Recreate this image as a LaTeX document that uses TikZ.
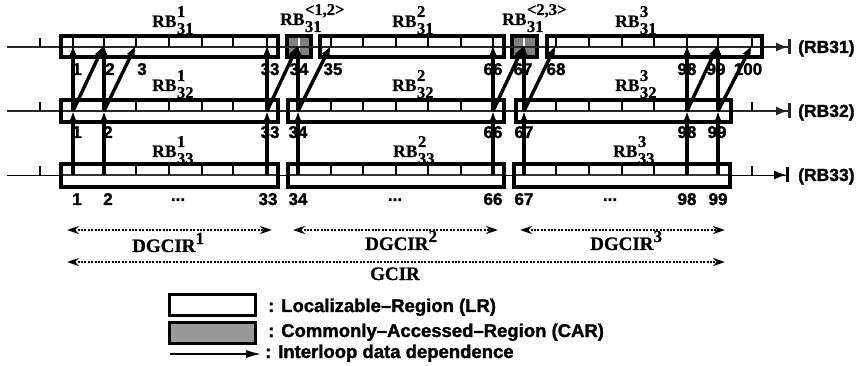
\documentclass[tikz,border=0pt]{standalone}
\usepackage{fontspec}
\setmainfont{Liberation Serif}[BoldFeatures={FakeBold=0.8}]
\setsansfont{Liberation Sans}[BoldFeatures={FakeBold=1.5}]
\usetikzlibrary{arrows.meta,fit}

% RB label with stacked superscript / subscript at nearly full size
\newcommand{\rbtag}[2]{RB\kern0.5pt\rlap{\raisebox{10pt}{\fontsize{16.5}{16.5}\selectfont #1}}\raisebox{-7pt}{\fontsize{16.5}{16.5}\selectfont #2}}
\newcommand{\supnum}[1]{\raisebox{8pt}{\fontsize{17}{17}\selectfont #1}}

\tikzset{
  lrbox/.style={draw, line width=3.6pt, inner sep=0pt, outer sep=0pt},
  carbox/.style={lrbox, fill=black!50},
  tick/.style={line width=1.2pt},
  axisline/.style={line width=1.5pt, black!85},
  faintline/.style={line width=0.8pt, black!55},
  dep/.style={line width=3.4pt, -{Latex[length=12pt,width=9pt]}},
  rowend/.style={-{Latex[length=12pt,width=9pt]Bar[width=15pt,line width=3pt]}},
  num/.style={font=\sffamily\bfseries\fontsize{17}{17}\selectfont, inner sep=0pt, anchor=base},
  rb/.style={font=\bfseries\fontsize{17.5}{17.5}\selectfont, inner sep=0pt, anchor=base west},
  span/.style={line width=2.6pt, dash pattern=on 2pt off 1.4pt,
    {Stealth[length=12pt,width=8pt]}-{Stealth[length=12pt,width=8pt]}},
  spanlab/.style={font=\bfseries\fontsize{19}{19}\selectfont, inner sep=0pt},
  legtext/.style={font=\sffamily\bfseries\fontsize{18.5}{18.5}\selectfont, inner sep=0pt, anchor=base west},
  rowlab/.style={font=\sffamily\bfseries\fontsize{17.5}{17.5}\selectfont, inner sep=0pt, anchor=base west},
}

\begin{document}
\begin{tikzpicture}[x=1pt,y=-1pt]
\useasboundingbox (0,0) rectangle (857,366);

% ---------- commonly accessed regions (drawn first, axis passes over) ----------
\node[carbox, fit={(287,36) (311,57)}] (car12) {};
\node[carbox, fit={(512,36) (537,57)}] (car23) {};
\draw[white, line width=1.2pt] (299,38) -- (299,55);
\draw[white, line width=1.2pt] (524,38) -- (524,55);

% ---------- axis lines of the three loops ----------
\coordinate (s1) at (7,47);   \coordinate (t1) at (791,47);
\coordinate (s2) at (7,111);  \coordinate (t2) at (791,111);
\coordinate (s3) at (7,175);  \coordinate (t3) at (789,175);
\draw[axisline, rowend] (s1) -- (t1);
\draw[axisline, rowend] (s2) -- (t2);
\draw[faintline, rowend, black] (s3) -- (t3);
\draw[line width=1.2pt, black!80] (61,175) -- (278,175) (288,175) -- (504,175) (514,175) -- (730,175);

% small ticks on the axes
\draw[tick] (40,47) -- (40,38);
\draw[tick] (40,111) -- (40,102);
\draw[tick] (40,175) -- (40,166);
\draw[tick] (752,111) -- (752,102);
\draw[tick] (752,175) -- (752,166);

% ---------- localizable regions ----------
\node[lrbox, fit={(61,36) (278,57)}]   (lr11) {};
\node[lrbox, fit={(320,36) (504,57)}]  (lr12) {};
\node[lrbox, fit={(547,36) (762,57)}]  (lr13) {};
\node[lrbox, fit={(61,100) (278,122)}] (lr21) {};
\node[lrbox, fit={(288,100) (504,122)}] (lr22) {};
\node[lrbox, fit={(516,100) (731,122)}] (lr23) {};
\node[lrbox, fit={(61,164) (278,187)}] (lr31) {};
\node[lrbox, fit={(288,164) (504,187)}] (lr32) {};
\node[lrbox, fit={(514,164) (730,187)}] (lr33) {};

% cell divisions (upper half of each region)
\foreach \x in {73,104,136,169,202,233,267} {
  \draw[tick] (\x,36) -- (\x,47);
  \draw[tick] (\x,100) -- (\x,111);
  \draw[tick] (\x,164) -- (\x,175);
}
\foreach \x in {331,363,396,428,461,493} \draw[tick] (\x,36) -- (\x,47);
\foreach \x in {298,331,363,396,428,461,493} {
  \draw[tick] (\x,100) -- (\x,111);
  \draw[tick] (\x,164) -- (\x,175);
}
\foreach \x in {556,589,622,654,687,718,752} \draw[tick] (\x,36) -- (\x,47);
\foreach \x in {524,556,589,622,654,687,718} {
  \draw[tick] (\x,100) -- (\x,111);
  \draw[tick] (\x,164) -- (\x,175);
}

% ---------- element positions ----------
\foreach \n/\x in {1/73,2/104,3/136,33/267,34/298,35/331,66/493,67/524,68/556,98/687,99/718,100/752} {
  \coordinate (a\n) at (\x,45);
  \coordinate (b\n) at (\x,111);
  \coordinate (c\n) at (\x,175);
}

% ---------- interloop data dependences ----------
\foreach \n in {1,2,33,34,66,67,98,99} {
  \draw[dep] (c\n) -- (b\n);
  \draw[dep] (b\n) -- (a\n);
}
\foreach \n/\m in {1/2,2/3,33/34,34/35,66/67,67/68,98/99,99/100}
  \draw[dep] (b\n) -- (a\m);

% ---------- element numbers ----------
\foreach \t/\x in {1/77,2/110,3/142,33/270,34/299,35/333,66/493,67/523,68/556,98/687,99/716,100/748}
  \node[num] (na\t) at (\x,75) {\t};
\foreach \t/\x in {1/77,2/108,33/270,34/298,66/493,67/524,98/687,99/717}
  \node[num] (nb\t) at (\x,138) {\t};
\foreach \t/\x in {1/77,2/108,33/268,34/298,66/493,67/524,98/687,99/718}
  \node[num] (nc\t) at (\x,205) {\t};
\node[num] (dots1) at (178,201) {...};
\node[num] (dots2) at (395,201) {...};
\node[num] (dots3) at (610,201) {...};

% ---------- region names ----------
\node[rb] (rb131) at (152,27) {\rbtag{1}{31}};
\node[rb] (rb231) at (392,27) {\rbtag{2}{31}};
\node[rb] (rb331) at (615,27) {\rbtag{3}{31}};
\node[rb] (rb1231) at (280,25) {\rbtag{<1,2>}{31}};
\node[rb] (rb2331) at (502,25) {\rbtag{<2,3>}{31}};
\node[rb] (rb132) at (152,91) {\rbtag{1}{32}};
\node[rb] (rb232) at (392,91) {\rbtag{2}{32}};
\node[rb] (rb332) at (615,91) {\rbtag{3}{32}};
\node[rb] (rb133) at (152,157) {\rbtag{1}{33}};
\node[rb] (rb233) at (393,157) {\rbtag{2}{33}};
\node[rb] (rb333) at (613,157) {\rbtag{3}{33}};

% loop names at the right
\node[rowlab] (loop31) at (798,53) {(RB31)};
\node[rowlab] (loop32) at (798,117) {(RB32)};
\node[rowlab] (loop33) at (798,181) {(RB33)};

% ---------- iteration ranges ----------
\coordinate (d1l) at (67,230);  \coordinate (d1r) at (272,230);
\coordinate (d2l) at (293,230); \coordinate (d2r) at (498,230);
\coordinate (d3l) at (520,230); \coordinate (d3r) at (725,230);
\coordinate (gl) at (67,262);   \coordinate (gr) at (725,262);
\draw[span] (d1l) -- (d1r);
\draw[span] (d2l) -- (d2r);
\draw[span] (d3l) -- (d3r);
\draw[span] (gl) -- (gr);
\node[spanlab, anchor=base west] (dg1) at (132,252) {DGCIR\supnum{1}};
\node[spanlab, anchor=base west] (dg2) at (365,250) {DGCIR\supnum{2}};
\node[spanlab, anchor=base west] (dg3) at (590,250) {DGCIR\supnum{3}};
\node[spanlab, anchor=base] (g) at (395,280) {GCIR};

% ---------- legend ----------
\node[lrbox, line width=3.2pt, fit={(169.5,294.5) (255.5,315.5)}] (leglr) {};
\node[carbox, line width=3.2pt, fill=black!40, fit={(169.5,322.5) (255.5,343.5)}] (legcar) {};
\coordinate (lal) at (170,354); \coordinate (lar) at (263,354);
\draw[line width=2.8pt, -{Latex[length=17pt,width=8pt]}] (lal) -- (lar);
\node[legtext] (tlr) at (268,312) {: Localizable--Region (LR)};
\node[legtext] (tcar) at (268,337) {: Commonly--Accessed--Region (CAR)};
\node[legtext] (tdep) at (265,358) {: Interloop data dependence};
\end{tikzpicture}
\end{document}
